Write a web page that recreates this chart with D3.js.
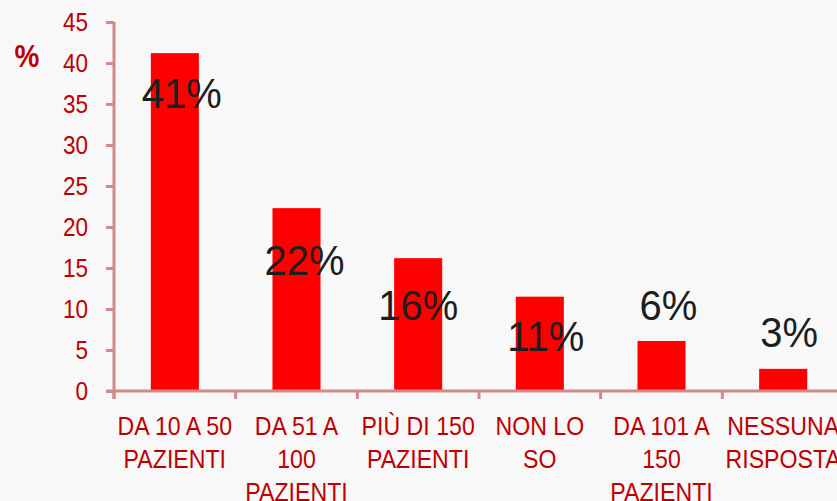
<!DOCTYPE html>
<html>
<head>
<meta charset="utf-8">
<script src="https://cdn.jsdelivr.net/npm/d3@7"></script>
<style>
  html, body { margin: 0; padding: 0; background: #f8f8f8; }
  svg { display: block; }
</style>
</head>
<body>
<svg id="chart" width="837" height="501"></svg>
<script>
// ---------- data ----------
const categories = ["DA 10 A 50 PAZIENTI", "DA 51 A 100 PAZIENTI", "PIÙ DI 150 PAZIENTI",
                    "NON LO SO", "DA 101 A 150 PAZIENTI", "NESSUNA RISPOSTA"];
const categoryLines = [["DA 10 A 50", "PAZIENTI"], ["DA 51 A", "100", "PAZIENTI"], ["PIÙ DI 150", "PAZIENTI"],
                       ["NON LO", "SO"], ["DA 101 A", "150", "PAZIENTI"], ["NESSUNA", "RISPOSTA"]];
const values = [41.2, 22.3, 16.2, 11.5, 6.1, 2.7];
const valueLabels = ["41%", "22%", "16%", "11%", "6%", "3%"];
const yTicks = [0, 5, 10, 15, 20, 25, 30, 35, 40, 45];
const yAxisTitle = "%";

// ---------- layout (label anchors in value units, x nudges in px) ----------
const labelBaseline = [34.5, 14.1, 8.6, 4.9, 8.6, 5.4];
const labelNudge = [7, 8, 0, 6, 7, 6];

const svg = d3.select("#chart");
svg.append("rect").attr("width", 837).attr("height", 501).attr("fill", "#f8f8f8");

const y = d3.scaleLinear().domain([0, 45]).range([391, 22]);
const x = d3.scaleBand().domain(categories).range([114, 844]).padding(0);
const barW = x.bandwidth() * 0.395;

const axisColor = "#d08a8a";
const red = "#c00000";
const font = "'Liberation Sans', Arial, sans-serif";

// bars
svg.append("g").selectAll("rect").data(values).join("rect")
  .attr("x", (d, i) => x(categories[i]) + x.bandwidth() / 2 - barW / 2)
  .attr("y", d => y(d))
  .attr("width", barW)
  .attr("height", d => y(0) - y(d))
  .attr("fill", "#ff0000");

// y axis
const yAxis = svg.append("g").attr("transform", "translate(114,0)")
  .call(d3.axisLeft(y).tickValues(yTicks).tickSize(8).tickPadding(18).tickSizeOuter(0));
yAxis.select(".domain").attr("stroke", axisColor).attr("stroke-width", 3)
  .attr("d", `M0,${y(45)}V${y(0) + 8}`);
yAxis.selectAll(".tick line").attr("stroke", axisColor).attr("stroke-width", 3);
yAxis.selectAll(".tick text")
  .attr("fill", red).attr("font-family", font).attr("font-size", 25)
  .attr("x", 0).attr("dy", "0.32em")
  .attr("transform", "translate(-26,0) scale(0.9,1)");

// x axis
const xAxis = svg.append("g").attr("transform", `translate(0,${y(0)})`)
  .call(d3.axisBottom(x).tickSize(0).tickFormat(""));
xAxis.select(".domain").attr("stroke", axisColor).attr("stroke-width", 3)
  .attr("d", "M106,0H844");
xAxis.selectAll(".tick").remove();
// category boundary ticks
const bounds = categories.map(c => x(c)).concat([x(categories[categories.length - 1]) + x.bandwidth()]);
xAxis.selectAll("line.bound").data(bounds).join("line")
  .attr("class", "bound")
  .attr("x1", d => d).attr("x2", d => d)
  .attr("y1", 0).attr("y2", 8)
  .attr("stroke", axisColor).attr("stroke-width", 3);

// category labels
const catG = svg.append("g");
categories.forEach((c, i) => {
  const cx = x(c) + x.bandwidth() / 2;
  categoryLines[i].forEach((line, j) => {
    catG.append("text")
      .attr("transform", `translate(${cx},${435 + j * 33}) scale(0.89,1)`)
      .attr("text-anchor", "middle")
      .attr("font-family", font).attr("font-size", 26)
      .attr("fill", red)
      .text(line);
  });
});

// value labels
svg.append("g").selectAll("text").data(valueLabels).join("text")
  .attr("transform", (d, i) => `translate(${x(categories[i]) + x.bandwidth() / 2 + labelNudge[i]},${y(labelBaseline[i])}) scale(0.93,1)`)
  .attr("text-anchor", "middle")
  .attr("font-family", font).attr("font-size", 43)
  .attr("fill", "#1e1e1e")
  .text(d => d);

// axis title
svg.append("text")
  .attr("transform", "translate(27,67) scale(0.9,1)")
  .attr("text-anchor", "middle")
  .attr("font-family", font).attr("font-size", 31).attr("font-weight", "bold")
  .attr("fill", red)
  .text(yAxisTitle);
</script>
</body>
</html>
